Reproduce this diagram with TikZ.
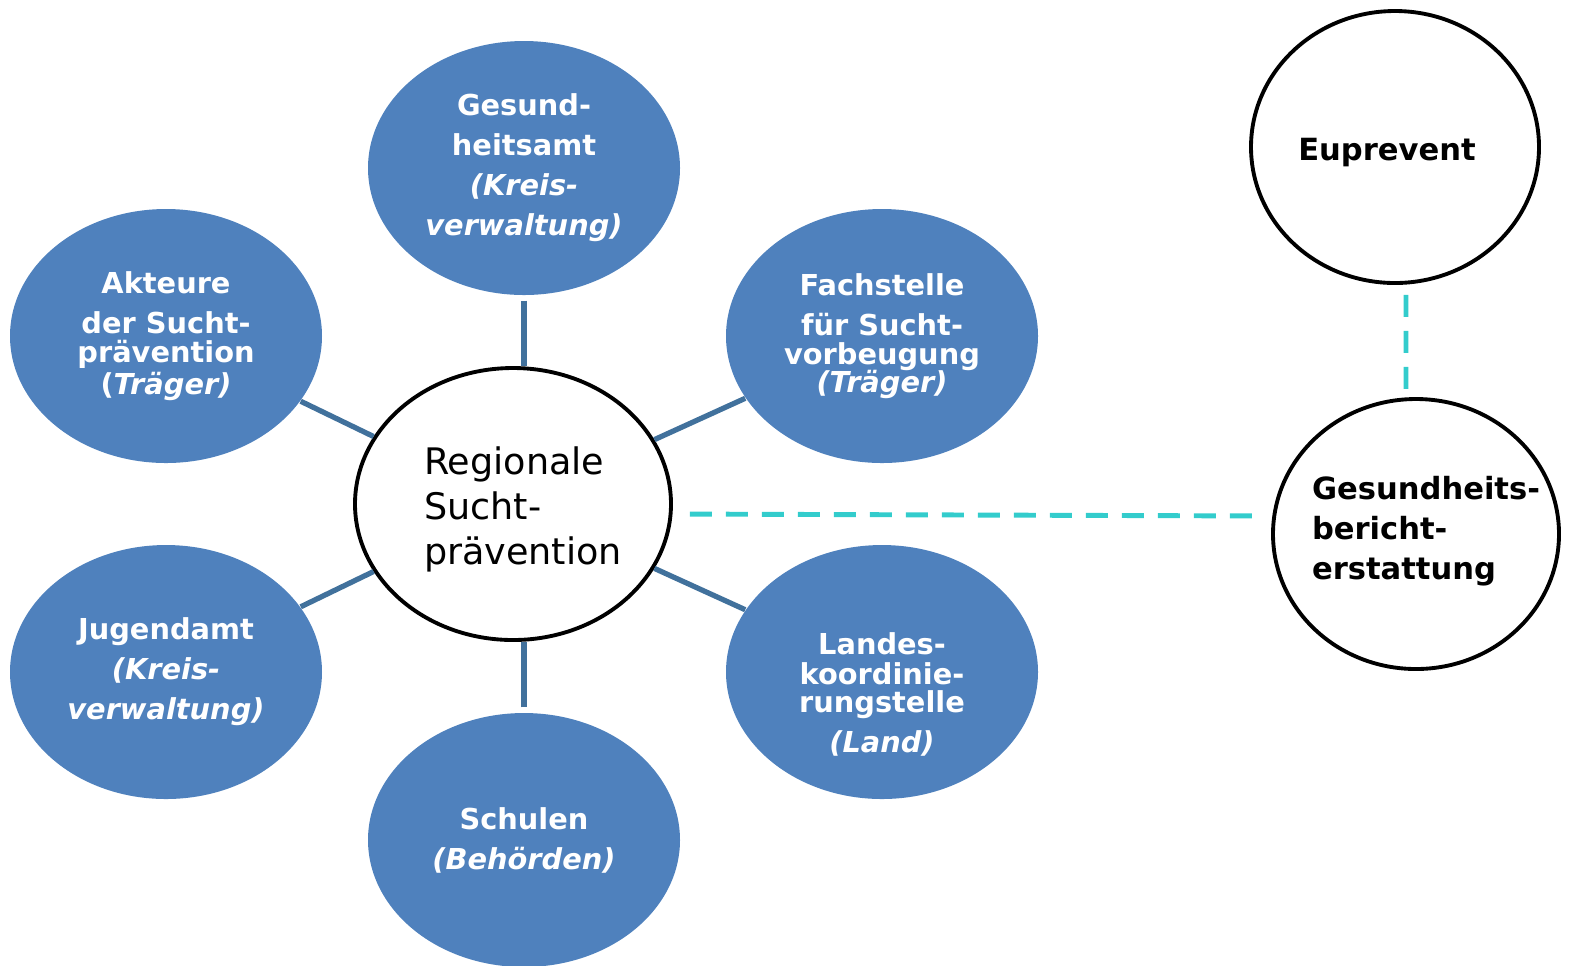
\documentclass[tikz,border=0pt]{standalone}
\usepackage{fontspec}
\setmainfont{DejaVu Sans}
\usepackage{xcolor}
\usetikzlibrary{shapes,positioning,calc}
\definecolor{ovalblue}{HTML}{4F81BD}
\definecolor{linkblue}{HTML}{41719C}
\definecolor{dashcyan}{HTML}{33CCCC}
\tikzset{
  blueoval/.style={ellipse, fill=ovalblue, text=white, align=center, inner sep=0pt,
    font=\fontsize{8.2}{11.4}\selectfont\bfseries, minimum width=31.2mm, minimum height=25.4mm},
  whiteoval/.style={ellipse, draw=black, line width=1.1pt, fill=white, inner sep=0pt},
  ovaltext/.style={align=left, font=\fontsize{8.7}{11.4}\selectfont\bfseries},
  link/.style={draw=linkblue, line width=1.5pt},
  cyanlink/.style={draw=dashcyan, line width=1.4pt, dash pattern=on 2.2mm off 1.4mm}
}

\begin{document}
\begin{tikzpicture}[x=0.1mm,y=-0.1mm]
            \useasboundingbox (0,0) rectangle (1569,965);
            % outer ring
            \node[blueoval] (gesund) at (524,168) {Gesund-\\ heitsamt\\ \textit{(Kreis-}\\ \textit{verwaltung)}};
            \node[blueoval] (fach) at (882,336) {Fachstelle\\ für Sucht-\\[-3pt] vorbeugung\\[-3.4pt] \textit{(Träger)}};
            \node[blueoval] (landes) at (882,672) {\rule{0pt}{19pt}Landes-\\[-3pt] koordinie-\\[-3.4pt] rungstelle\\ \textit{(Land)}};
            \node[blueoval] (schulen) at (524,840) {Schulen\\ \textit{(Behörden)}};
            \node[blueoval] (jugend) at (166,672) {Jugendamt\\ \textit{(Kreis-}\\ \textit{verwaltung)}};
            \node[blueoval] (akteure) at (166,336) {Akteure\\ der Sucht-\\[-3pt] prävention\\[-2.3pt] (\textit{Träger)}};
            % middle
            \node[whiteoval, minimum width=31.6mm, minimum height=27.2mm,
              label={[align=left, xshift=1mm, yshift=-0.5mm, font=\fontsize{10.4}{12.8}\selectfont]center:Regionale\\ Sucht-\\ prävention}] (zentrum) at (513,504) {};
            \foreach \n in {fach,landes,jugend,akteure}
            \draw[link] (zentrum) -- (\n);
            \draw[link, shorten <=0.5mm] (gesund.south) -- (gesund.south |- zentrum.north);
            \draw[link, shorten <=0.5mm] (schulen.north) -- (schulen.north |- zentrum.south);
            % right side
            \node[whiteoval, minimum width=28.8mm, minimum height=27.2mm,
              label={[ovaltext, xshift=-0.8mm, yshift=-0.6mm]center:Euprevent}] (eup) at (1395,147) {};
            \node[whiteoval, minimum width=28.6mm, minimum height=27mm,
              label={[ovaltext, xshift=1mm, yshift=0.3mm]center:Gesundheits-\\ bericht-\\ erstattung}] (gb) at (1416,534) {};
            \draw[cyanlink, shorten <=1.7mm, shorten >=1.5mm] ([yshift=-1mm]zentrum.east) -- ([yshift=1.8mm]gb.west);
            \draw[cyanlink, shorten <=1mm] ([xshift=1.1mm]eup.south) -- ([xshift=-1mm]gb.north);
        \end{tikzpicture}
\end{document}
